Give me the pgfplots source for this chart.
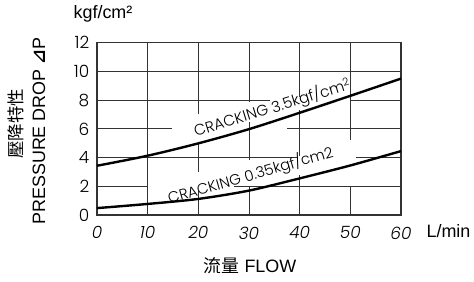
\documentclass[border=0pt]{standalone}
\usepackage{pgfplots}
\pgfplotsset{compat=1.18}
\usepackage{fontspec}
\setmainfont{Liberation Sans}
\newfontfamily\lightfont{Poppins Light}
\newfontfamily\lightit{Poppins Light Italic}
\newfontfamily\cjk{Noto Sans CJK TC}
\newfontfamily\dejavu{DejaVu Sans}
\definecolor{gridc}{HTML}{333333}
\begin{document}
\begin{tikzpicture}
\useasboundingbox (-97bp,-67bp) rectangle (377bp,215bp);
\begin{axis}[
  scale only axis, width=304bp, height=172.3bp,
  xmin=0, xmax=60, ymin=0, ymax=12,
  xtick={0,10,20,30,40,50,60}, ytick={0,2,4,6,8,10,12},
  major tick length=0pt,
  /pgf/number format/assume math mode=true,
  axis line style={draw=gridc, line width=1.1bp},
  xticklabel style={font=\lightit\fontsize{17}{17}\selectfont, anchor=north, inner sep=0pt, yshift=-11.5bp},
  yticklabel style={font=\lightfont\fontsize{17}{17}\selectfont, anchor=east, inner sep=0pt, xshift=-7.5bp},
  clip=false,
]
\tikzset{gl/.style={draw=gridc, line width=0.9bp}}
% grid segments (interrupted behind the labels)
\draw[gl] (0,2) -- (10,2); \draw[gl] (27,2) -- (60,2);
\draw[gl] (0,4) -- (39.6,4); \draw[gl] (51.2,4) -- (60,4);
\draw[gl] (0,6) -- (14.9,6); \draw[gl] (37.5,6) -- (60,6);
\draw[gl] (0,8) -- (34.2,8); \draw[gl] (50.2,8) -- (60,8);
\draw[gl] (0,10) -- (60,10);
\draw[gl] (10,0) -- (10,12);
\draw[gl] (20,0) -- (20,1.7); \draw[gl] (20,3) -- (20,5); \draw[gl] (20,7) -- (20,12);
\draw[gl] (30,0) -- (30,2); \draw[gl] (30,3.8) -- (30,6.5); \draw[gl] (30,7.9) -- (30,12);
\draw[gl] (40,0) -- (40,2.8); \draw[gl] (40,4.1) -- (40,7.3); \draw[gl] (40,8.25) -- (40,12);
\draw[gl] (50,0) -- (50,2); \draw[gl] (50,5.2) -- (50,12);
% curves
\addplot[smooth, black, line width=2.4bp] coordinates {(0,3.43) (10,4.13) (20,4.99) (30,5.98) (40,7.12) (50,8.3) (60,9.5)};
\addplot[smooth, black, line width=2.4bp] coordinates {(0,0.48) (10,0.77) (20,1.12) (30,1.7) (40,2.55) (50,3.45) (60,4.45)};
\node[rotate=17, font=\lightfont\fontsize{15.3}{15.3}\selectfont, inner sep=0pt] at (34.6,7.45) {CRACKING 3.5kgf/cm\textsuperscript{2}};
\node[rotate=16, font=\lightfont\fontsize{15}{15}\selectfont, inner sep=0pt] at (30.3,2.75) {CRACKING 0.35kgf/cm2};
\end{axis}
\node[font=\fontsize{18}{18}\selectfont] at (6bp,201bp) {kgf/cm²};
\node[font=\fontsize{18}{18}\selectfont] at (351.5bp,-15.8bp) {L/min};
\node[font=\fontsize{18}{18}\selectfont] at (153bp,-51bp) {{\cjk 流量} FLOW};
\node[rotate=90, font=\cjk\fontsize{17.5}{18}\selectfont] at (-80.7bp,91bp) {壓降特性};
\node[rotate=90, font=\fontsize{18}{18}\selectfont] at (-58bp,84bp) {PRESSURE DROP {\dejavu\bfseries ⊿}P};
\end{tikzpicture}
\end{document}
